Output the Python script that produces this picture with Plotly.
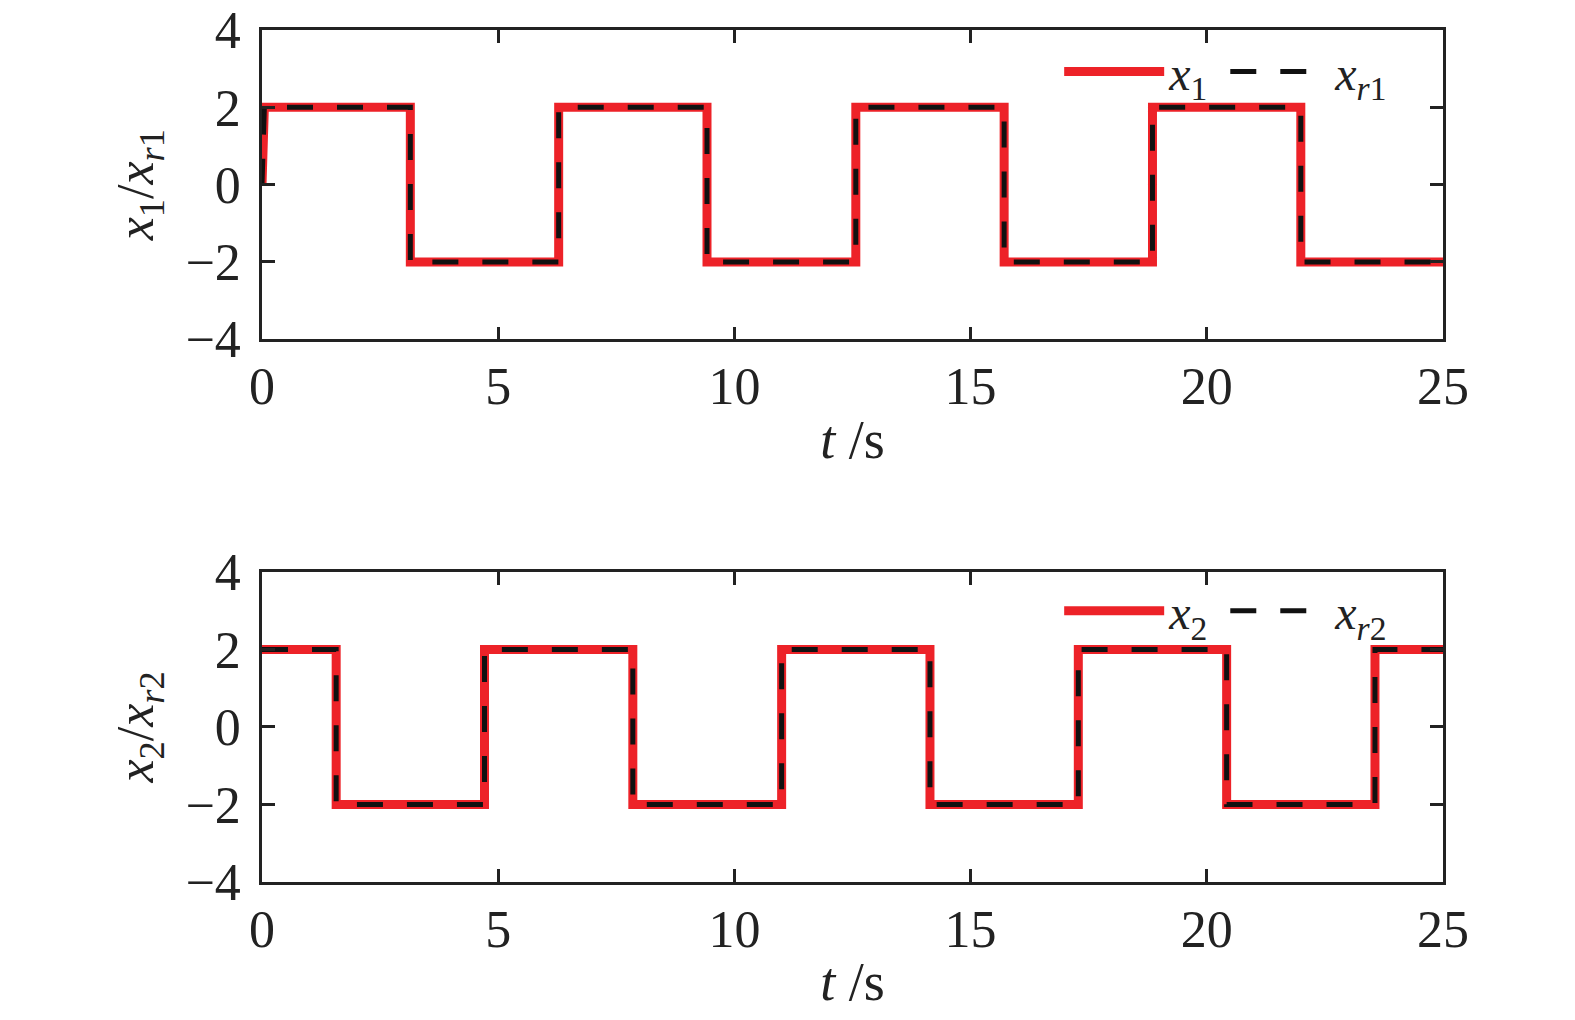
import plotly.graph_objects as go
from plotly.subplots import make_subplots

# Top panel: corner points of x1 / x_r1 (square wave)
t1 = [0.0, 0.05, 3.14, 3.14, 6.28, 6.28, 9.42, 9.42, 12.57, 12.57,
      15.71, 15.71, 18.85, 18.85, 21.99, 21.99, 25.0]
x1 = [0, 2, 2, -2, -2, 2, 2, -2, -2, 2, 2, -2, -2, 2, 2, -2, -2]
xr1 = x1

# Bottom panel: corner points of x2 / x_r2
t2 = [0.0, 1.57, 1.57, 4.71, 4.71, 7.85, 7.85, 11.0, 11.0, 14.14, 14.14,
      17.28, 17.28, 20.42, 20.42, 23.56, 23.56, 25.0]
x2 = [2, 2, -2, -2, 2, 2, -2, -2, 2, 2, -2, -2, 2, 2, -2, -2, 2, 2]
xr2 = x2

x_ticks = [0, 5, 10, 15, 20, 25]
y_ticks = [-4, -2, 0, 2, 4]

RED = "#ED2228"
BLACK = "#111111"
FONT = "Liberation Serif, Times New Roman, serif"

fig = make_subplots(rows=2, cols=1)

fig.add_trace(go.Scatter(x=t1, y=x1, mode="lines", name="<i>x</i><sub>1</sub>&nbsp;",
                         line=dict(color=RED, width=9), legend="legend"), row=1, col=1)
fig.add_trace(go.Scatter(x=t1, y=xr1, mode="lines", name="<i>x</i><sub><i>r</i>1</sub>",
                         line=dict(color=BLACK, width=5, dash="26px,24px"), legend="legend"), row=1, col=1)
fig.add_trace(go.Scatter(x=t2, y=x2, mode="lines", name="<i>x</i><sub>2</sub>&nbsp;",
                         line=dict(color=RED, width=9), legend="legend2"), row=2, col=1)
fig.add_trace(go.Scatter(x=t2, y=xr2, mode="lines", name="<i>x</i><sub><i>r</i>2</sub>",
                         line=dict(color=BLACK, width=5, dash="26px,24px"), legend="legend2"), row=2, col=1)

axis_common = dict(showline=True, linecolor="#222", linewidth=2.5, mirror="ticks",
                   ticks="inside", ticklen=13, tickwidth=2.5, tickcolor="#222",
                   showgrid=False, zeroline=False, automargin=False,
                   ticklabeloverflow="allow",
                   tickfont=dict(family=FONT, size=52, color="#222"))

for r, dom in [(1, [0.637, 1.0]), (2, [0.0, 0.364])]:
    fig.update_xaxes(range=[0, 25], tickvals=x_ticks, ticklabelstandoff=0,
                     title=dict(text="<i>t</i> /s", font=dict(family=FONT, size=54, color="#222"), standoff=6),
                     **axis_common, row=r, col=1)
    fig.update_yaxes(range=[-4, 4], tickvals=y_ticks, domain=dom, ticklabelstandoff=8,
                     **axis_common, row=r, col=1)

fig.update_yaxes(title=dict(text="<i>x</i><sub>1</sub>/<i>x</i><sub><i>r</i>1</sub>",
                            font=dict(family=FONT, size=52, color="#222"), standoff=16), row=1, col=1)
fig.update_yaxes(title=dict(text="<i>x</i><sub>2</sub>/<i>x</i><sub><i>r</i>2</sub>",
                            font=dict(family=FONT, size=52, color="#222"), standoff=16), row=2, col=1)

legend_common = dict(orientation="h", bgcolor="rgba(0,0,0,0)", borderwidth=0,
                     font=dict(family=FONT, size=48, color="#222"), itemwidth=100,
                     xanchor="left", yanchor="middle", tracegroupgap=0)
fig.update_layout(
    width=1575, height=1020,
    paper_bgcolor="white", plot_bgcolor="white",
    margin=dict(l=254, r=140, t=22, b=146),
    legend=dict(x=0.675, y=0.951, **legend_common),
    legend2=dict(x=0.675, y=0.318, **legend_common),
)

fig.write_html("out.html")
